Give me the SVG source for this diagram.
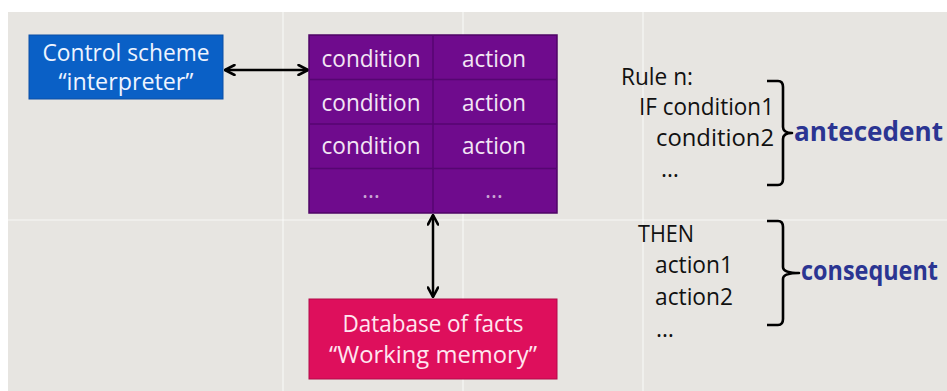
<svg xmlns="http://www.w3.org/2000/svg" width="947" height="391" viewBox="0 0 947 391">
  <style>
    .box-text { font-family: "Open Sans", "Liberation Sans", sans-serif; font-size: 23px; text-anchor: middle; }
    .rule { font-family: "Open Sans", "Liberation Sans", sans-serif; font-size: 23px; fill: #111111; }
    .label { font-family: "Open Sans", "Liberation Sans", sans-serif; font-size: 26px; font-weight: bold; fill: #2b3592; }
    .conn { stroke: #000; stroke-width: 2.5; fill: none; }
    .brace { stroke: #000; stroke-width: 2.6; fill: none; stroke-linejoin: round; }
    .grid { stroke: #ffffff; stroke-width: 1.2; opacity: 0.7; }
    .cell { stroke: #560672; stroke-width: 1.5; }
  </style>
  <defs>
    <marker id="chev" viewBox="0 0 12 12" refX="11" refY="6" markerWidth="12" markerHeight="12" markerUnits="userSpaceOnUse" orient="auto-start-reverse">
      <path d="M1.5,1 L11,6 L1.5,11" fill="none" stroke="#000" stroke-width="2.6" stroke-linecap="round" stroke-linejoin="round"/>
    </marker>
  </defs>

  <!-- background -->
  <rect x="0" y="0" width="947" height="391" fill="#ffffff"/>
  <rect x="8" y="12" width="939" height="379" fill="#e7e5e1"/>
  <g id="background-grid">
    <line class="grid" x1="283" y1="12" x2="283" y2="391"/>
    <line class="grid" x1="463" y1="12" x2="463" y2="391"/>
    <line class="grid" x1="643" y1="12" x2="643" y2="391"/>
    <line class="grid" x1="8" y1="220" x2="947" y2="220"/>
  </g>

  <!-- connectors -->
  <g id="connectors">
    <line class="conn" x1="225" y1="70" x2="308" y2="70" marker-start="url(#chev)" marker-end="url(#chev)"/>
    <line class="conn" x1="433" y1="215" x2="433" y2="297" marker-start="url(#chev)" marker-end="url(#chev)"/>
  </g>

  <!-- control scheme -->
  <g id="control-scheme">
    <rect x="29" y="35" width="194" height="64" fill="#0a60c6" stroke="#0a4fa6" stroke-width="1"/>
    <text class="box-text" x="126" y="61" font-size="21" fill="#eef4ff" textLength="167" lengthAdjust="spacingAndGlyphs">Control scheme</text>
    <text class="box-text" x="126" y="90" font-size="21" fill="#eef4ff" textLength="135" lengthAdjust="spacingAndGlyphs">“interpreter”</text>
  </g>

  <!-- rule table -->
  <g id="rule-table">
    <rect x="309" y="35" width="248" height="178" fill="#6f0b8d" stroke="#4f0566" stroke-width="1.5"/>
    <line class="cell" x1="433" y1="35" x2="433" y2="213"/>
    <line class="cell" x1="309" y1="79.5" x2="557" y2="79.5"/>
    <line class="cell" x1="309" y1="124" x2="557" y2="124"/>
    <line class="cell" x1="309" y1="168.5" x2="557" y2="168.5"/>
    <g fill="#f3e6f5">
      <text class="box-text" x="371" y="67" textLength="99" lengthAdjust="spacingAndGlyphs">condition</text>
      <text class="box-text" x="494" y="67" textLength="64" lengthAdjust="spacingAndGlyphs">action</text>
      <text class="box-text" x="371" y="111" textLength="99" lengthAdjust="spacingAndGlyphs">condition</text>
      <text class="box-text" x="494" y="111" textLength="64" lengthAdjust="spacingAndGlyphs">action</text>
      <text class="box-text" x="371" y="154" textLength="99" lengthAdjust="spacingAndGlyphs">condition</text>
      <text class="box-text" x="494" y="154" textLength="64" lengthAdjust="spacingAndGlyphs">action</text>
    </g>
    <g fill="#c9a6d4">
      <text class="box-text" x="371" y="198" font-size="18">…</text>
      <text class="box-text" x="494" y="198" font-size="18">…</text>
    </g>
  </g>

  <!-- database -->
  <g id="database">
    <rect x="309" y="299" width="248" height="80" fill="#de0f5c" stroke="#b20a48" stroke-width="1"/>
    <text class="box-text" x="433" y="332" fill="#ffe6f0" textLength="181" lengthAdjust="spacingAndGlyphs">Database of facts</text>
    <text class="box-text" x="433" y="363" fill="#ffe6f0" textLength="208" lengthAdjust="spacingAndGlyphs">“Working memory”</text>
  </g>

  <!-- antecedent -->
  <g id="antecedent">
    <text class="rule" x="621" y="85" textLength="72" lengthAdjust="spacingAndGlyphs">Rule n:</text>
    <text class="rule" x="639" y="115" textLength="135" lengthAdjust="spacingAndGlyphs">IF condition1</text>
    <text class="rule" x="656" y="146" textLength="118" lengthAdjust="spacingAndGlyphs">condition2</text>
    <text class="rule" x="661" y="177" font-size="18" fill="#555">…</text>
    <path class="brace" d="M767,81 L778,81 Q783,81 783,87 L783,127 Q783,133 792,133 Q783,133 783,139 L783,179 Q783,185 778,185 L767,185"/>
    <text class="label" x="794" y="141" font-size="25" textLength="149" lengthAdjust="spacingAndGlyphs">antecedent</text>
  </g>

  <!-- consequent -->
  <g id="consequent">
    <text class="rule" x="638" y="242" textLength="56" lengthAdjust="spacingAndGlyphs">THEN</text>
    <text class="rule" x="655" y="273" textLength="78" lengthAdjust="spacingAndGlyphs">action1</text>
    <text class="rule" x="655" y="305" textLength="78" lengthAdjust="spacingAndGlyphs">action2</text>
    <text class="rule" x="656" y="337" font-size="18" fill="#555">…</text>
    <path class="brace" d="M767,221 L778,221 Q783,221 783,227 L783,267 Q783,273 799,273 Q783,273 783,279 L783,319 Q783,325 778,325 L767,325"/>
    <text class="label" x="801" y="280" font-size="23" textLength="137" lengthAdjust="spacingAndGlyphs">consequent</text>
  </g>
</svg>
